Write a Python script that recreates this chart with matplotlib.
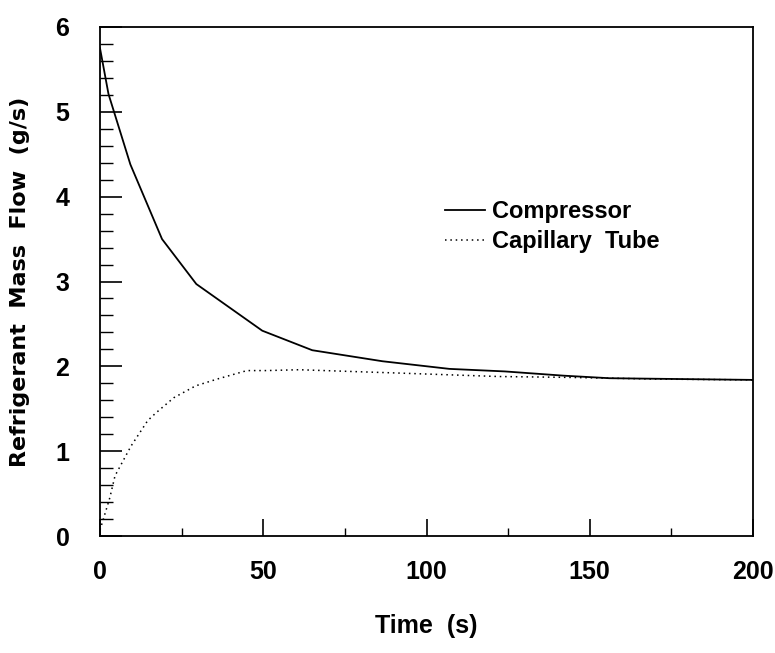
import matplotlib
matplotlib.use("Agg")
import matplotlib.pyplot as plt
from matplotlib import font_manager
from matplotlib.ticker import MultipleLocator

# ---- data ----
comp_t = [0, 2.6, 9.3, 19.0, 29.5, 49.7, 65.0, 86.5, 107.0, 124.0, 142.0, 156.0, 200.0]
comp_y = [5.75, 5.21, 4.38, 3.50, 2.97, 2.42, 2.19, 2.06, 1.97, 1.94, 1.89, 1.86, 1.84]

cap_t = [0, 3.0, 4.6, 9.5, 14.6, 17.1, 22.6, 29.3, 35.9, 45.0, 51.0, 61.0, 76.5, 92.0,
         107.0, 122.0, 143.0, 170.0, 200.0]
cap_y = [0.07, 0.45, 0.71, 1.06, 1.36, 1.45, 1.63, 1.77, 1.85, 1.95, 1.95, 1.96, 1.94, 1.92,
         1.90, 1.88, 1.87, 1.85, 1.84]

x_ticks = [0, 50, 100, 150, 200]
y_ticks = [0, 1, 2, 3, 4, 5, 6]
series_labels = ["Compressor", "Capillary  Tube"]
x_label = "Time  (s)"
y_label = "Refrigerant  Mass  Flow  (g/s)"

names = {f.name for f in font_manager.fontManager.ttflist}
if "Liberation Sans Narrow" in names:
    fam = ["Liberation Sans Narrow", "DejaVu Sans"]
    tsize, lsize, xlsize = 21, 20, 21
else:
    fam = ["Liberation Sans", "DejaVu Sans"]
    tsize, lsize, xlsize = 18, 17, 18

W, H = 775, 653
fig = plt.figure(figsize=(W / 100, H / 100), dpi=100)
L, R, T, B = 100, 753, 27, 536
ax = fig.add_axes([L / W, 1 - B / H, (R - L) / W, (B - T) / H])

ax.plot(comp_t, comp_y, color="black", lw=1.3, label=series_labels[0])
ax.plot(cap_t, cap_y, color="black", lw=1.1, linestyle=(0, (1, 2.5)), label=series_labels[1])

ax.set_xlim(0, 200)
ax.set_ylim(0, 6)
ax.set_xticks(x_ticks)
ax.set_yticks(y_ticks)
ax.xaxis.set_minor_locator(MultipleLocator(25))
ax.yaxis.set_minor_locator(MultipleLocator(0.2))

for s in ax.spines.values():
    s.set_linewidth(1.3)

ax.tick_params(axis="x", which="major", direction="in", length=12, width=1.2, pad=17,
               top=False, labelsize=tsize)
ax.tick_params(axis="x", which="minor", direction="in", length=6, width=1.0, top=False)
ax.tick_params(axis="y", which="major", direction="in", length=16, width=1.2, pad=22,
               right=False, labelsize=tsize)
ax.tick_params(axis="y", which="minor", direction="in", length=9, width=1.0, right=False)

for lab in ax.get_xticklabels() + ax.get_yticklabels():
    lab.set_family(fam)
    lab.set_fontweight("bold")

ax.set_xlabel(x_label, family=fam, fontweight="bold", fontsize=xlsize, labelpad=22)
ax.set_ylabel(y_label, family=["DejaVu Sans"], fontweight="bold", fontsize=16, labelpad=18)

leg = ax.legend(loc="upper left", bbox_to_anchor=((445 - L) / (R - L), 1 - (200 - T) / (B - T)),
                frameon=False, borderpad=0, borderaxespad=0, handlelength=1.7,
                handletextpad=0.3, labelspacing=0.3,
                prop={"family": fam, "weight": "bold", "size": lsize})

fig.savefig("out.png", dpi=100, facecolor="white")
